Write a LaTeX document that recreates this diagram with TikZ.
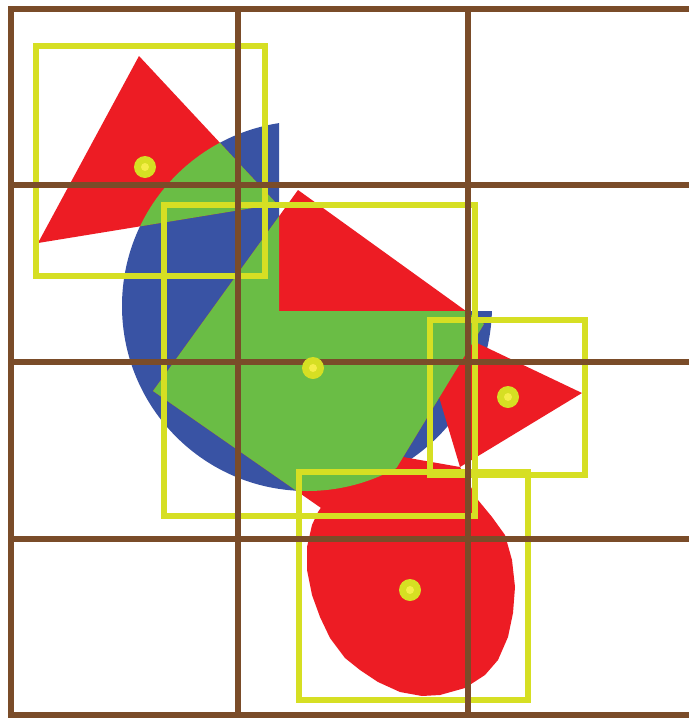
\documentclass[tikz,border=0pt]{standalone}
\usepackage{tikz}
\definecolor{gridbrown}{RGB}{122,76,41}
\definecolor{boxyellow}{RGB}{214,223,35}
\definecolor{dotyellow}{RGB}{244,238,72}
\definecolor{objred}{RGB}{237,28,36}
\definecolor{objblue}{RGB}{57,83,164}
\definecolor{objgreen}{RGB}{106,189,69}
\begin{document}
\begin{tikzpicture}[x=1pt,y=-1pt,
    gridline/.style={gridbrown,line width=6pt},
    bbox/.style={boxyellow,line width=6pt}]
    \useasboundingbox (0,0) rectangle (689,718);
    \fill[white] (0,0) rectangle (689,718);

    % 坐标
    \coordinate (sq1) at (153,391);
    \coordinate (sq2) at (298,190);
    \coordinate (sq3) at (484,324);
    \coordinate (sq4) at (357,533);
    \coordinate (cc) at (307,306);

    % 圆 (右上角缺口)
    \begin{scope}
        \clip (0,0) -- (279,0) -- (279,311) -- (689,311) -- (689,718) -- (0,718) -- cycle;
        \fill[objblue] (cc) circle (185pt);
    \end{scope}

    % 左上三角形
    \fill[objred] (139,56) -- (38,243) -- (277,204) -- cycle;
    \begin{scope}
        \clip (cc) circle (185pt);
        \fill[objgreen] (139,56) -- (38,243) -- (277,204) -- cycle;
    \end{scope}

    % 右侧三角形
    \fill[objred] (582,393) -- (414,313) -- (460,467) -- cycle;

    % 梨形
    \fill[objred] (403,457) -- (460,467) -- (478,500) -- (492,517) -- (505,535)
        -- (512,560) -- (515,587) -- (513,613) -- (508,637) -- (498,660)
        -- (485,675) -- (465,688) -- (440,695) -- (422,696) -- (400,692)
        -- (378,682) -- (360,670) -- (345,658) -- (330,638) -- (320,617)
        -- (312,595) -- (307,570) -- (307,547) -- (312,525) -- (318,512)
        -- (340,480) -- cycle;

    % 方形
    \fill[objred] (sq1) -- (sq2) -- (sq3) -- (sq4) -- cycle;
    \begin{scope}
        \clip (0,0) -- (279,0) -- (279,311) -- (689,311) -- (689,718) -- (0,718) -- cycle;
        \clip (cc) circle (185pt);
        \fill[objgreen] (sq1) -- (sq2) -- (sq3) -- (sq4) -- cycle;
    \end{scope}

    % 边界框
    \foreach \a/\b/\c/\d in {36/46/265/276, 164/205/475/516, 430/320/585/475, 299/472/528/700}
        \draw[bbox] (\a,\b) rectangle (\c,\d);

    % 网格
    \foreach \x in {11,238,468}
        \draw[gridline] (\x,6) -- (\x,718);
    \foreach \y in {9,185,362,539,715}
        \draw[gridline] (8,\y) -- (689,\y);

    % 中心点
    \foreach \x/\y in {145/167, 313/368, 508/397, 410/590} {
        \fill[boxyellow] (\x,\y) circle (11pt);
        \fill[dotyellow] (\x,\y) circle (4pt);
    }
\end{tikzpicture}
\end{document}
